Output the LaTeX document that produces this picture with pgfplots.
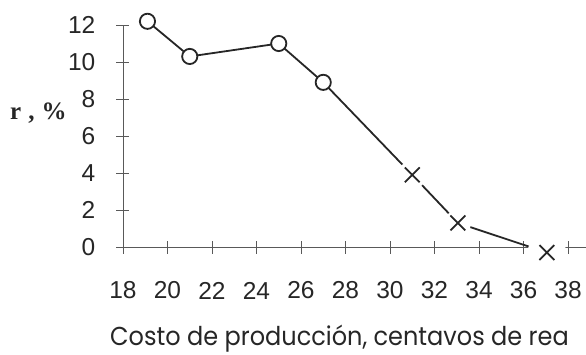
\documentclass[border=0pt]{standalone}
\usepackage{pgfplots}
\pgfplotsset{compat=1.18}
\usepackage{graphicx}
\usepackage{fontspec}
\setmainfont{Liberation Sans}
\newfontfamily\labelfont{Poppins}
\newfontfamily\rfont{Liberation Serif}
\begin{document}
\begin{tikzpicture}
\path[use as bounding box] (-123pt,-107pt) rectangle (463pt,247pt);
\begin{axis}[
  at={(0pt,0pt)}, anchor=south west,
  x=22.25pt, y=18.5pt,
  xmin=18, xmax=38.8, ymin=0, ymax=12,
  axis x line*=bottom, axis y line*=left,
  xtick={18,20,...,38}, ytick={0,2,...,12},
  tick align=center, major tick length=13pt,
  every tick/.style={black!65, line width=0.8pt},
  axis line style={black!65, line width=0.8pt},
  tick label style={font=\fontsize{24.5}{28}\selectfont, text=black!85},
  /pgf/number format/assume math mode=true,
  xticklabel style={anchor=center, inner sep=0pt, yshift=-37pt},
  yticklabel style={anchor=east, inner sep=0pt, xshift=-21pt},
  clip=false,
]
% connecting line
\addplot[black!85, line width=1.8pt, mark=none] coordinates {
 (19.1,12.2) (21,10.3) (25,11.0) (27,8.9) (31,3.9) (33.05,1.3) (37.05,-0.3)};
% white gaps around crosses
\addplot[only marks, mark=*, color=white, mark size=14pt] coordinates {(31,3.9)};
\addplot[only marks, mark=*, color=white, mark size=13pt] coordinates {(33.05,1.3)};
\addplot[only marks, mark=*, color=white, mark size=19pt] coordinates {(37.05,-0.3)};
% circles
\addplot[only marks, mark=*, draw=black!85, fill=white, line width=1.8pt, mark size=7.6pt,
  mark options={draw=black!85, fill=white, line width=1.8pt}] coordinates {
 (19.1,12.2) (21,10.3) (25,11.0) (27,8.9)};
% crosses
\addplot[only marks, mark=x, color=black!85, line width=1.8pt, mark size=10.5pt,
  mark options={draw=black!85, line width=1.8pt}] coordinates {
 (31,3.9) (33.05,1.3) (37.05,-0.3)};
\end{axis}
\node[anchor=base west, inner sep=0pt, text=black!85] at (-113pt,128pt) {\rfont\bfseries\fontsize{25}{28}\selectfont r\hspace{7pt},\hspace{7pt}\%};
\node[anchor=base west, inner sep=0pt, text=black!85] at (-13pt,-98pt) {\scalebox{1}[1.08]{\labelfont\fontsize{24}{28}\selectfont Costo de producción, centavos de rea}};
\end{tikzpicture}
\end{document}
